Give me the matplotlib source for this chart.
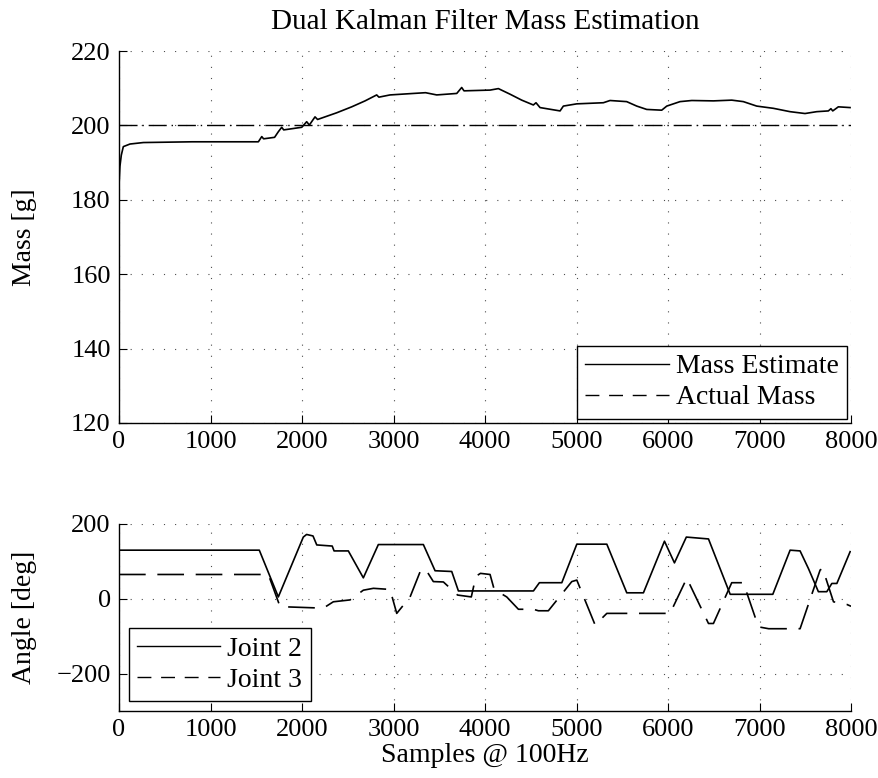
import numpy as np
import matplotlib
matplotlib.use("Agg")
import matplotlib.pyplot as plt
from matplotlib.lines import Line2D

plt.rcParams['font.family'] = ['Liberation Serif', 'DejaVu Serif']
plt.rcParams['font.size'] = 19

# mass estimate (sample, grams)
mass_x = [0, 10, 25, 47, 120, 266, 800, 1523, 1560, 1580, 1700, 1741, 1778, 1800,
          1997, 2051, 2080, 2142, 2170, 2379, 2543, 2689, 2816, 2840, 2962, 3217,
          3350, 3472, 3691, 3745, 3770, 4055, 4146, 4273, 4401, 4528, 4557, 4601,
          4820, 4856, 5002, 5293, 5366, 5548, 5658, 5767, 5931, 5986, 6131, 6259,
          6496, 6696, 6823, 6969, 7151, 7333, 7497, 7625, 7752, 7780, 7800, 7861, 7989]
mass_est = [184, 189, 192, 194.3, 195.0, 195.4, 195.6, 195.6, 197.0, 196.4, 196.8, 198.3,
            199.5, 198.8, 199.5, 201.0, 200.1, 202.3, 201.6, 203.4, 205.0, 206.6, 208.2,
            207.6, 208.2, 208.6, 208.8, 208.2, 208.6, 210.2, 209.3, 209.5, 209.9, 208.4,
            206.8, 205.5, 206.1, 204.8, 203.9, 205.2, 205.8, 206.1, 206.7, 206.4, 205.2,
            204.3, 204.1, 205.2, 206.4, 206.7, 206.6, 206.8, 206.4, 205.2, 204.6, 203.7,
            203.2, 203.7, 203.9, 204.5, 203.9, 205.0, 204.8]
mass_true = 200

# joint angles (sample, degrees)
j2_x = [0, 1533, 1741, 2014, 2050, 2120, 2161, 2330, 2350, 2506, 2670, 2834, 3326,
        3454, 3636, 3709, 4529, 4594, 4839, 5003, 5331, 5549, 5731, 5961, 6070,
        6200, 6442, 6679, 7145, 7334, 7443, 7534, 7643, 7735, 7790, 7845, 7990]
j2 = [130, 130, 5, 165, 172, 168, 144, 141, 128, 128, 56, 145, 145,
      75, 73, 21, 21, 43, 43, 146, 146, 16, 16, 154, 96,
      165, 160, 12, 12, 130, 128, 81, 19, 19, 41, 41, 126]

j3_x = [0, 1632, 1760, 2233, 2342, 2525, 2670, 2780, 2962, 3035, 3181, 3290, 3345,
        3435, 3545, 3700, 3850, 3900, 3950, 4055, 4100, 4237, 4365, 4529, 4583,
        4692, 4948, 5003, 5203, 5331, 6022, 6205, 6442, 6496, 6696, 6823, 6988,
        7100, 7443, 7662, 7690, 7808, 7953, 8000]
j3 = [65, 65, -21, -25, -8, -3, 23, 28, 25, -39, 5, 72, 81,
      46, 45, 10, 5, 60, 68, 65, 25, 5, -28, -28, -32,
      -32, 46, 50, -70, -39, -39, 55, -66, -66, 43, 43, -75,
      -80, -80, 77, 81, -8, -15, -20]

fig = plt.figure(figsize=(8.79, 7.78), dpi=100)
ax1 = fig.add_axes([0.1354, 0.4563, 0.8328, 0.4781])
ax2 = fig.add_axes([0.1354, 0.0861, 0.8328, 0.2404])

grid_kw = dict(color='0.3', linestyle=(0, (1, 9)), linewidth=0.8)
leg_kw = dict(fancybox=False, edgecolor='k', framealpha=1, handlelength=3.0,
              labelspacing=0.2, handletextpad=0.25, borderpad=0.3, fontsize=20)

ax1.plot(mass_x, mass_est, color='k', lw=1.2)
ax1.axhline(mass_true, color='k', lw=1.0, dashes=(13, 3.5, 1, 3.5))
ax1.set_xlim(0, 8000)
ax1.set_ylim(120, 220)
ax1.set_yticks(np.arange(120, 221, 20))
ax1.set_xticks(np.arange(0, 8001, 1000))
ax1.set_ylabel('Mass [g]', fontsize=20)
ax1.grid(True, **grid_kw)
handles1 = [Line2D([], [], color='k', lw=1.0),
            Line2D([], [], color='k', lw=1.0, dashes=(10, 7))]
leg1 = ax1.legend(handles1, ['Mass Estimate', 'Actual Mass'], loc='lower right',
                  borderaxespad=0.15, **leg_kw)
leg1.get_frame().set_linewidth(1.0)

ax2.plot(j2_x, j2, color='k', lw=1.2, label='Joint 2')
ax2.plot(j3_x, j3, color='k', lw=1.2, dashes=(16, 7), label='Joint 3')
ax2.set_xlim(0, 8000)
ax2.set_ylim(-300, 200)
ax2.set_yticks([-200, 0, 200])
ax2.set_xticks(np.arange(0, 8001, 1000))
ax2.set_ylabel('Angle [deg]', fontsize=20)
ax2.set_xlabel('Samples @ 100Hz', fontsize=20, labelpad=1)
ax2.grid(True, **grid_kw)
handles2 = [Line2D([], [], color='k', lw=1.0),
            Line2D([], [], color='k', lw=1.0, dashes=(10, 7))]
leg2 = ax2.legend(handles2, ['Joint 2', 'Joint 3'], loc='lower left',
                  borderaxespad=0.35, **leg_kw)
leg2.get_frame().set_linewidth(1.0)

for ax in (ax1, ax2):
    ax.spines['top'].set_visible(False)
    ax.spines['right'].set_visible(False)
    ax.spines['left'].set_linewidth(1.0)
    ax.spines['bottom'].set_linewidth(1.0)
    ax.tick_params(direction='in', length=6, width=0.8, pad=6)
    ax.yaxis.set_label_coords(-0.112, 0.5)

ax1.set_title('Dual Kalman Filter Mass Estimation', fontsize=21, pad=16)

fig.savefig('out.png', dpi=100)
